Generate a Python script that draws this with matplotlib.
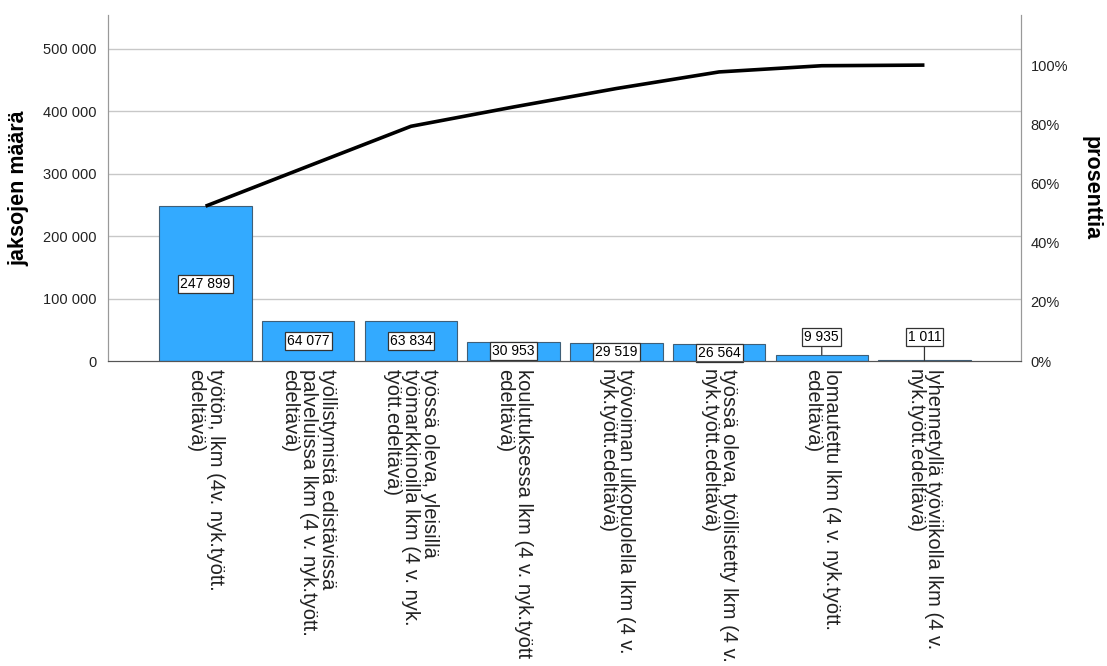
import numpy as np
import matplotlib
matplotlib.use('Agg')
from matplotlib import pyplot as plt
from matplotlib.ticker import FuncFormatter

plt.rcParams['font.family'] = ['Liberation Sans', 'DejaVu Sans']

categories = [
    'työtön, lkm (4v. nyk.tyött.\nedeltävä)',
    'työllistymistä edistävissä\npalveluissa lkm (4 v. nyk.tyött.\nedeltävä)',
    'työssä oleva, yleisillä\ntyömarkkinoilla lkm (4 v. nyk.\ntyött.edeltävä)',
    'koulutuksessa lkm (4 v. nyk.tyött\nedeltävä)',
    'työvoiman ulkopuolella lkm (4 v.\nnyk.tyött.edeltävä)',
    'työssä oleva, työllistetty lkm (4 v.\nnyk.tyött.edeltävä)',
    'lomautettu lkm (4 v. nyk.tyött.\nedeltävä)',
    'lyhennetyllä työviikolla lkm (4 v.\nnyk.tyött.edeltävä)',
]
values = [247899, 64077, 63834, 30953, 29519, 26564, 9935, 1011]
left_ticks = [0, 100000, 200000, 300000, 400000, 500000]
right_ticks = [0, 20, 40, 60, 80, 100]

values = np.array(values)
cum = np.cumsum(values)
total = cum[-1]
x = np.arange(len(values))

fig = plt.figure(figsize=(11.07, 6.66), dpi=100)
ax = fig.add_axes([108/1107, 1-361/666, (1021-108)/1107, (361-15)/666])

ymax = 554000
ax.set_ylim(0, ymax)
ax.set_xlim(-0.95, 7.94)

for t in left_ticks[1:]:
    ax.axhline(t, color='#c8c8c8', lw=1.0, zorder=0)

ax.bar(x, values, width=0.9, color='#33aaff', edgecolor='#3f5f78', lw=0.8, zorder=2)
ax.plot(x, cum, color='black', lw=2.6, zorder=4, solid_capstyle='butt')

box = dict(boxstyle='square,pad=0.15', fc='white', ec='#333333', lw=0.9)
for xi, v in zip(x, values):
    s = f'{v:,}'.replace(',', ' ')
    if v > 20000:
        ax.text(xi, v/2, s, ha='center', va='center', fontsize=10, bbox=box, zorder=5)
    else:
        ax.annotate(s, xy=(xi, v), xytext=(xi, 38500), ha='center', va='center', fontsize=10,
                    bbox=box, zorder=5,
                    arrowprops=dict(arrowstyle='-', color='#333333', lw=0.9, shrinkA=0, shrinkB=0))

ax.set_yticks(left_ticks)
ax.yaxis.set_major_formatter(FuncFormatter(lambda v, p: f'{int(v):,}'.replace(',', ' ')))
ax.tick_params(axis='y', length=0, labelsize=10.5, pad=8, colors='#222222')
ax.set_xticks(x)
ax.set_xticklabels(categories, rotation=270, ha='center', va='top', multialignment='left',
                   fontsize=14.5, color='#222222', linespacing=1.0)
ax.tick_params(axis='x', length=0, pad=6)
ax.set_ylabel('jaksojen määrä', fontsize=15.5, fontweight='bold', labelpad=10)

ax2 = ax.twinx()
ax2.set_ylim(0, ymax / total * 100)
ax2.set_yticks(right_ticks)
ax2.yaxis.set_major_formatter(FuncFormatter(lambda v, p: f'{int(v)}%'))
ax2.tick_params(axis='y', length=0, labelsize=10.5, pad=7, colors='#222222')
ax2.set_ylabel('prosenttia', fontsize=15.5, fontweight='bold', rotation=270, labelpad=24)

for a in (ax, ax2):
    a.spines['top'].set_visible(False)
    a.spines['left'].set_color('#999999')
    a.spines['right'].set_color('#999999')
    a.spines['bottom'].set_color('#555555')

fig.savefig('out.png', dpi=100)
